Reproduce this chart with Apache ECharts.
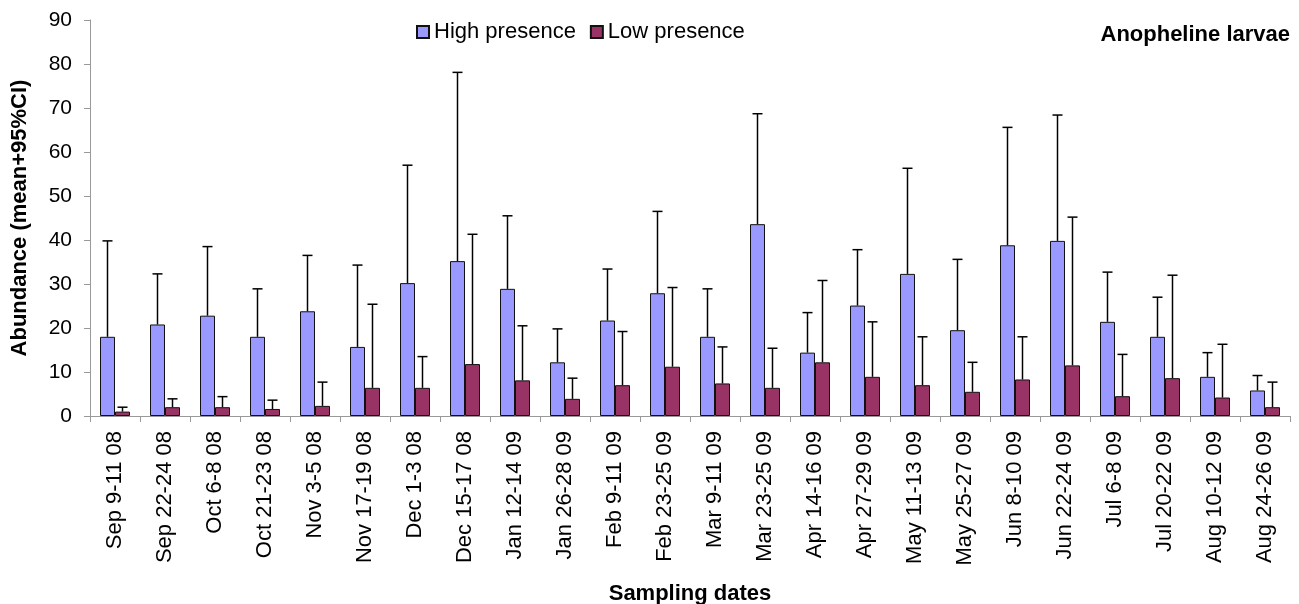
<!DOCTYPE html>
<html>
<head>
<meta charset="utf-8">
<script src="https://cdn.jsdelivr.net/npm/echarts@6/dist/echarts.min.js"></script>
<style>html,body{margin:0;padding:0;background:#fff;}#c{width:1299px;height:604px;}</style>
</head>
<body>
<div id="c"></div>
<script>
var categories = ["Sep 9-11 08","Sep 22-24 08","Oct 6-8 08","Oct 21-23 08","Nov 3-5 08","Nov 17-19 08","Dec 1-3 08","Dec 15-17 08","Jan 12-14 09","Jan 26-28 09","Feb 9-11 09","Feb 23-25 09","Mar 9-11 09","Mar 23-25 09","Apr 14-16 09","Apr 27-29 09","May 11-13 09","May 25-27 09","Jun 8-10 09","Jun 22-24 09","Jul 6-8 09","Jul 20-22 09","Aug 10-12 09","Aug 24-26 09"];
var highMean = [18, 20.8, 22.8, 18, 23.8, 15.7, 30.2, 35.2, 28.9, 12.2, 21.7, 27.9, 18, 43.6, 14.4, 25.1, 32.3, 19.5, 38.8, 39.8, 21.4, 18, 8.9, 5.8];
var highUpper = [39.8, 32.3, 38.5, 28.9, 36.5, 34.3, 57.0, 78.1, 45.5, 19.8, 33.4, 46.5, 28.9, 68.7, 23.5, 37.8, 56.3, 35.6, 65.6, 68.4, 32.7, 27, 14.4, 9.2];
var lowMean = [1.0, 2.0, 2.0, 1.6, 2.3, 6.4, 6.4, 11.8, 8.1, 3.9, 7.0, 11.2, 7.4, 6.4, 12.2, 8.9, 7.0, 5.5, 8.3, 11.5, 4.5, 8.6, 4.2, 2.0];
var lowUpper = [2.0, 3.9, 4.4, 3.6, 7.7, 25.4, 13.5, 41.3, 20.5, 8.6, 19.2, 29.2, 15.7, 15.4, 30.8, 21.4, 18, 12.2, 18, 45.2, 14, 32, 16.3, 7.7];
var yTicks = [0, 10, 20, 30, 40, 50, 60, 70, 80, 90];

var FONT = '"Liberation Sans", Arial, sans-serif';
var chart = echarts.init(document.getElementById('c'));

function errData(mean, upper) {
  return categories.map(function (c, i) { return [i, mean[i], upper[i]]; });
}
function makeErr(sign) {
  return function (params, api) {
    var i = api.value(0);
    var base = api.coord([i, api.value(1)]);
    var top = api.coord([i, api.value(2)]);
    var band = api.size([1, 0])[0];
    var bw = band * 0.6 / 2;
    var x = base[0] + sign * bw / 2;
    var cap = 5;
    var st = { stroke: '#000', lineWidth: 1.5 };
    return {
      type: 'group',
      children: [
        { type: 'line', shape: { x1: x, y1: base[1], x2: x, y2: top[1] }, style: st },
        { type: 'line', shape: { x1: x - cap, y1: top[1], x2: x + cap, y2: top[1] }, style: st }
      ]
    };
  };
}

chart.setOption({
  animation: false,
  backgroundColor: '#fff',
  title: {
    text: 'Anopheline larvae', right: 4, top: 19,
    textStyle: { fontFamily: FONT, fontSize: 22, fontWeight: 'bold', color: '#000' }
  },
  legend: {
    data: ['High presence', 'Low presence'],
    left: 411, top: 16, itemWidth: 12, itemHeight: 12, itemGap: 14,
    icon: 'rect',
    textStyle: { fontFamily: FONT, fontSize: 22, color: '#000' }
  },
  grid: { left: 90, right: 9, top: 20, bottom: 188, containLabel: false, outerBoundsMode: 'none' },
  xAxis: {
    type: 'category', data: categories,
    name: 'Sampling dates', nameLocation: 'middle', nameGap: 167,
    nameTextStyle: { fontFamily: FONT, fontSize: 22, fontWeight: 'bold', color: '#000' },
    axisLine: { lineStyle: { color: '#999', width: 1 } },
    axisTick: { show: true, alignWithLabel: false, length: 6, lineStyle: { color: '#999' } },
    axisLabel: { rotate: 90, interval: 0, margin: 15, fontFamily: FONT, fontSize: 22, color: '#000' }
  },
  yAxis: {
    type: 'value', min: 0, max: 90, interval: 10,
    name: 'Abundance (mean+95%CI)', nameLocation: 'middle', nameGap: 59, nameRotate: 90,
    nameTextStyle: { fontFamily: FONT, fontSize: 22, fontWeight: 'bold', color: '#000' },
    axisLine: { show: true, lineStyle: { color: '#999', width: 1 } },
    axisTick: { show: true, length: 6, lineStyle: { color: '#999' } },
    axisLabel: { fontFamily: FONT, fontSize: 21, color: '#000', margin: 18,
      formatter: function (v) { return yTicks.indexOf(v) >= 0 ? String(v) : ''; } },
    splitLine: { show: false }
  },
  series: [
    {
      name: 'High presence', type: 'bar', data: highMean,
      barGap: '0%', barCategoryGap: '40%',
      itemStyle: { color: '#9999FF', borderColor: '#111', borderWidth: 1 }
    },
    {
      name: 'Low presence', type: 'bar', data: lowMean,
      barGap: '0%', barCategoryGap: '40%',
      itemStyle: { color: '#993366', borderColor: '#111', borderWidth: 1 }
    },
    {
      type: 'custom', name: 'errHigh', data: errData(highMean, highUpper),
      renderItem: makeErr(-1), z: 3, silent: true,
      encode: { x: 0, y: [1, 2] }
    },
    {
      type: 'custom', name: 'errLow', data: errData(lowMean, lowUpper),
      renderItem: makeErr(1), z: 3, silent: true,
      encode: { x: 0, y: [1, 2] }
    }
  ]
});
</script>
</body>
</html>
